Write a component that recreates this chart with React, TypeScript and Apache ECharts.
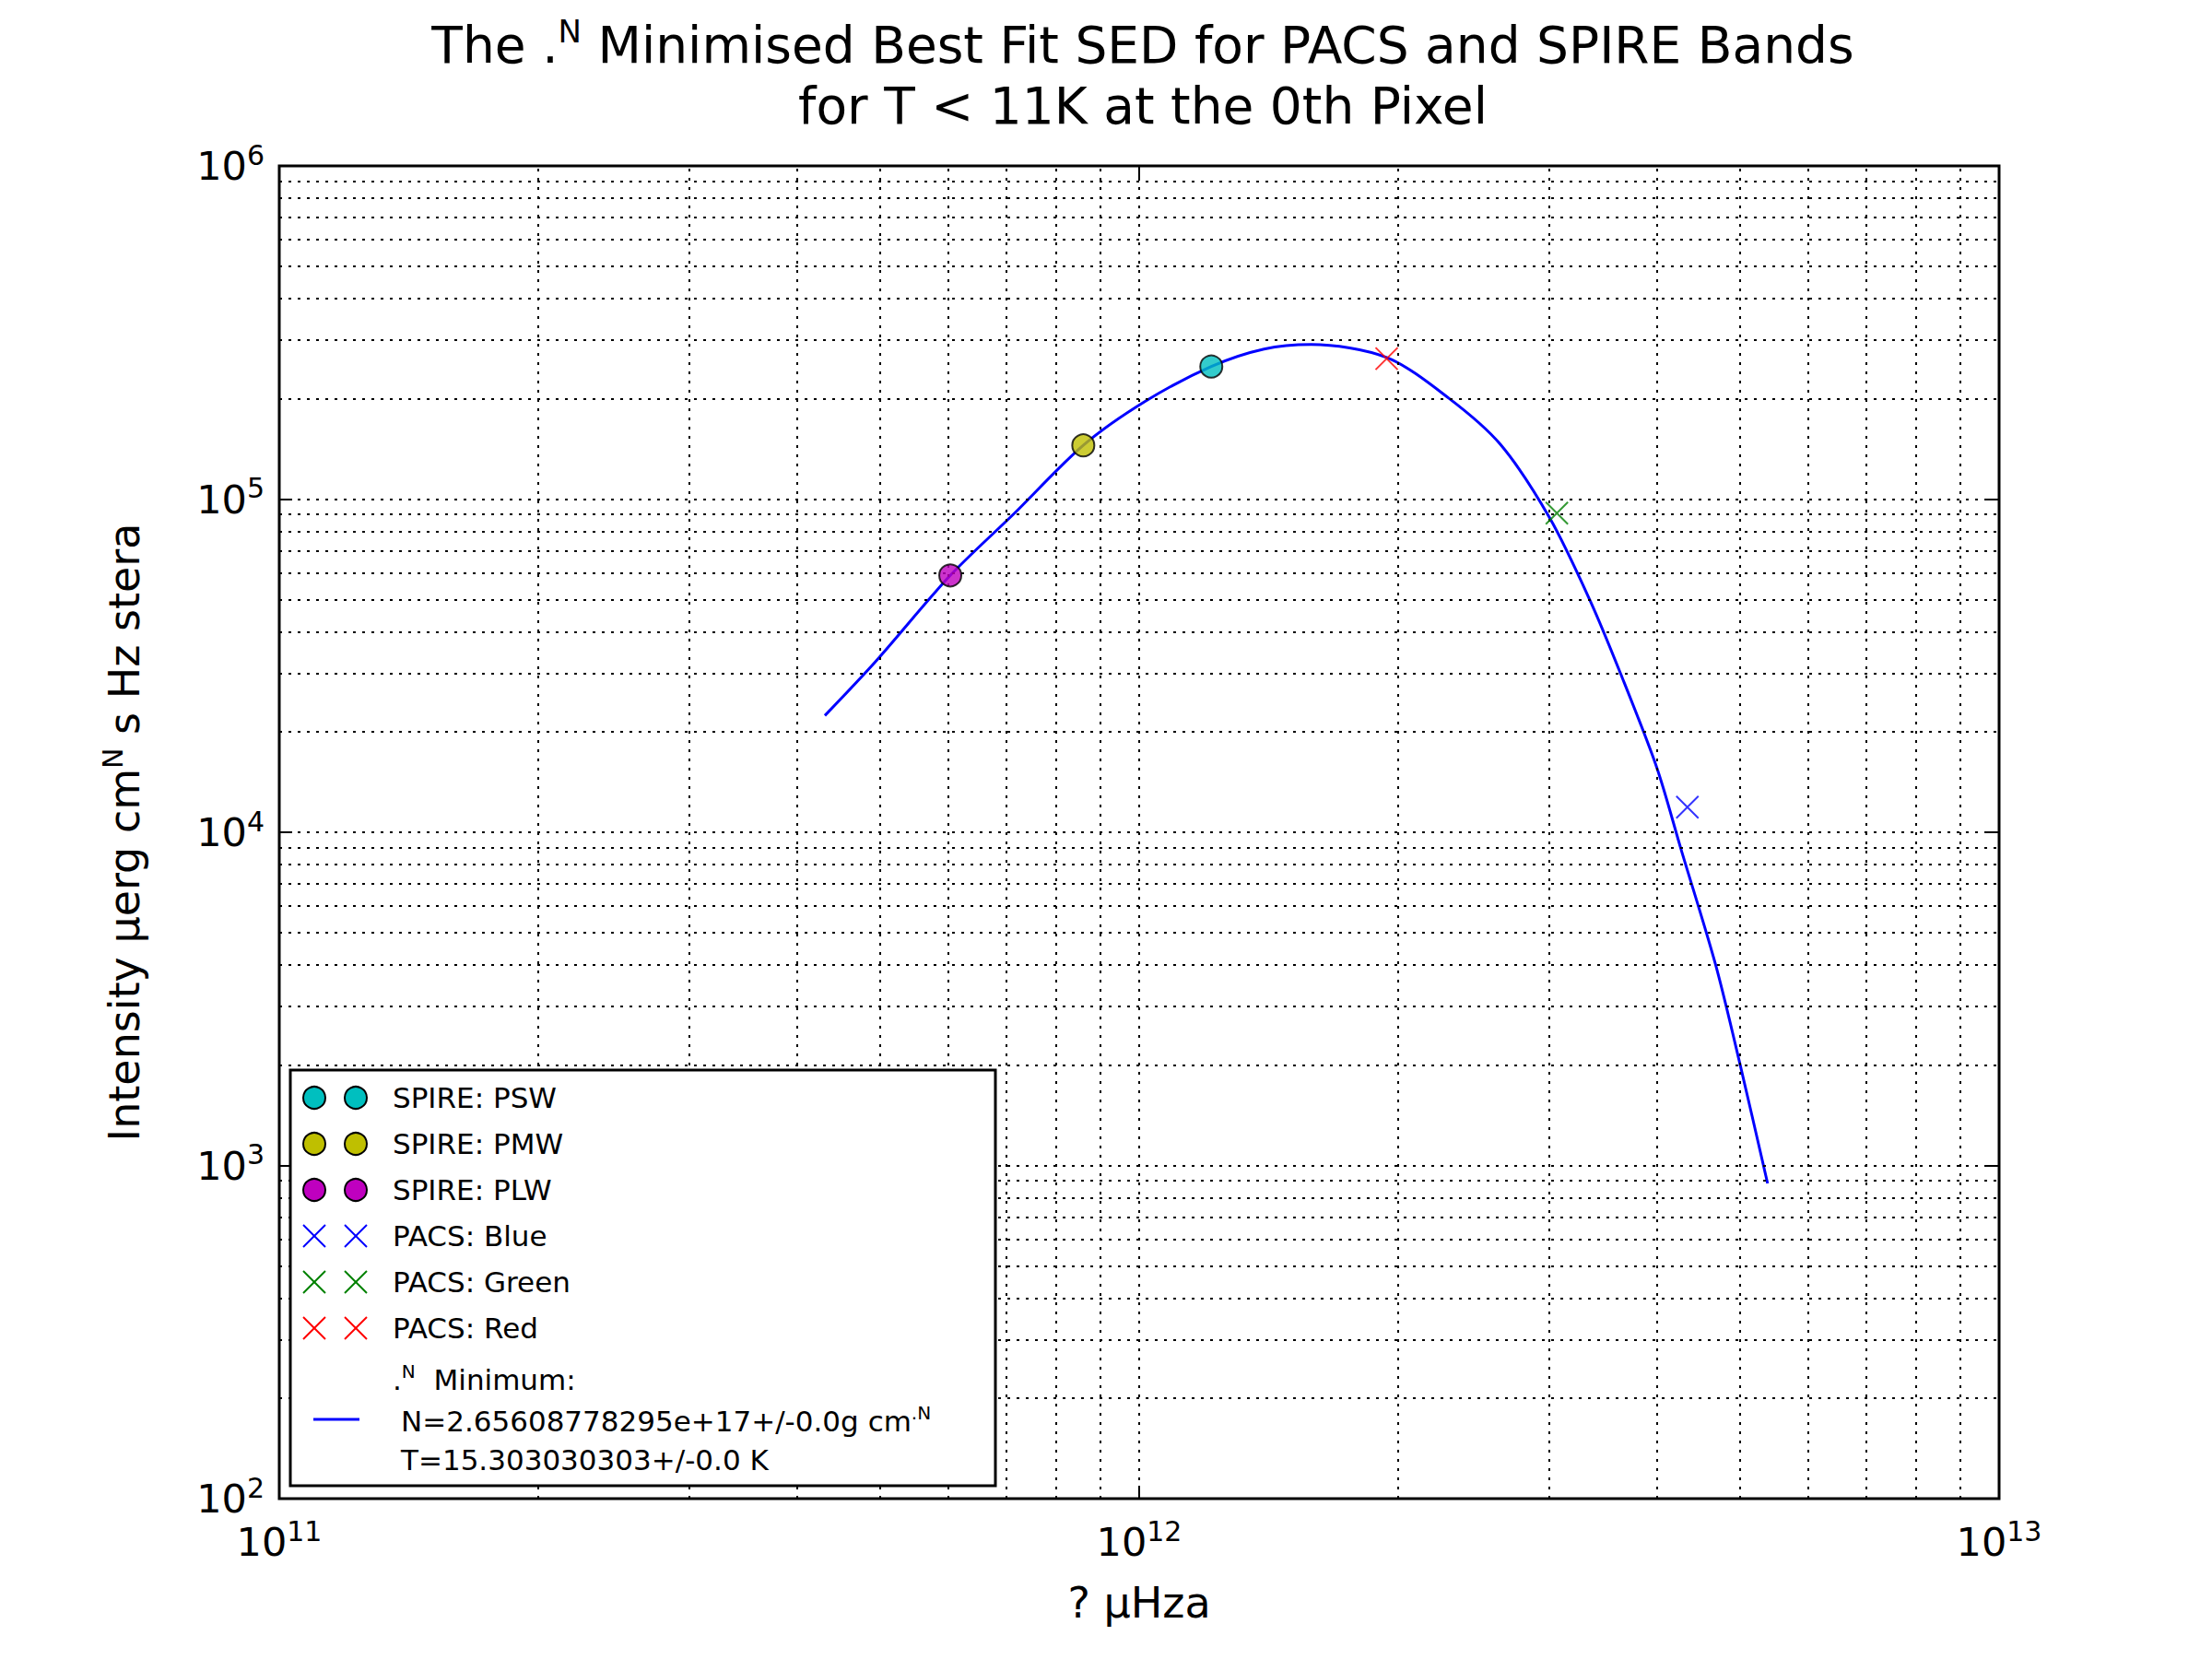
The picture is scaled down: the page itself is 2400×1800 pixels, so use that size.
import { useEffect, useRef } from "react";
import * as echarts from "echarts";

// band photometry (Hz, intensity)
const spirePSW = [[1.213e12, 2.5e5]];
const spirePMW = [[8.61e11, 1.45e5]];
const spirePLW = [[6.03e11, 5.9e4]];
const pacsBlue = [[4.34e12, 1.19e4]];
const pacsGreen = [[3.06e12, 9.07e4]];
const pacsRed = [[1.94e12, 2.64e5]];

// best fit curve
const fitFreq = [4.31e11, 4.94e11, 6.03e11, 7.14e11, 8.61e11, 1.018e12, 1.213e12, 1.397e12, 1.585e12, 1.94e12, 2.29e12, 2.63e12, 3.0e12, 3.34e12, 3.63e12, 4.0e12, 4.27e12, 4.68e12, 5.0e12, 5.38e12];
const fitIntensity = [2.24e4, 3.26e4, 5.9e4, 9.0e4, 1.45e5, 1.97e5, 2.5e5, 2.82e5, 2.91e5, 2.66e5, 2.01e5, 1.46e5, 8.8e4, 5.0e4, 2.99e4, 1.56e4, 8.84e3, 4.01e3, 2.0e3, 883];

const xDecades = [11, 12, 13];
const yDecades = [2, 3, 4, 5, 6];

const FONT = "DejaVu Sans";
const CROSS = "path://M0,0L10,10M10,0L0,10";

const gridValues = (decades: number[]) => {
  const out: number[] = [];
  decades.slice(0, -1).forEach((d) => {
    for (let m = 1; m < 10; m++) out.push(m * Math.pow(10, d));
  });
  return out;
};

const powLabel = (v: number) => `{b|10}{s|${Math.round(Math.log10(v))}}`;
const powRich = { b: { fontSize: 43, fontFamily: FONT, color: "#000" }, s: { fontSize: 30, fontFamily: FONT, color: "#000", padding: [0, 0, 24, 0] } };

const App = () => {
  const ref = useRef<HTMLDivElement>(null);

  useEffect(() => {
    document.body.style.margin = "0";
    if (!ref.current) return;
    const chart = echarts.init(ref.current, undefined, { renderer: "svg" });

    const dotted = { color: "#000", type: [3, 7] as any, width: 2 };
    const xLines = gridValues(xDecades).map((v) => ({ xAxis: v }));
    const yLines = gridValues(yDecades).map((v) => ({ yAxis: v }));

    const scatter = (data: number[][], color: string, cross: boolean) => ({
      type: "scatter",
      data,
      symbol: cross ? CROSS : "circle",
      symbolSize: 24,
      itemStyle: cross
        ? { color: "transparent", borderColor: color, borderWidth: 2 }
        : { color, borderColor: "#000", borderWidth: 2 },
      z: 5,
    });

    const lx = 315, ly = 1161, rowH = 50;
    const legendRows: [string, string, boolean][] = [
      ["SPIRE: PSW", "#00bfbf", false],
      ["SPIRE: PMW", "#bfbf00", false],
      ["SPIRE: PLW", "#bf00bf", false],
      ["PACS: Blue", "#0000ff", true],
      ["PACS: Green", "#008000", true],
      ["PACS: Red", "#ff0000", true],
    ];
    const legendEls: any[] = [
      { type: "rect", shape: { x: lx, y: ly, width: 765, height: 451 }, style: { fill: "#fff", stroke: "#000", lineWidth: 3 }, z: 100 },
    ];
    legendRows.forEach(([label, color, cross], i) => {
      const cy = ly + 30 + i * rowH;
      [lx + 26, lx + 71].forEach((cx) => {
        if (cross) {
          legendEls.push({ type: "line", shape: { x1: cx - 12, y1: cy - 12, x2: cx + 12, y2: cy + 12 }, style: { stroke: color, lineWidth: 2 }, z: 101 });
          legendEls.push({ type: "line", shape: { x1: cx + 12, y1: cy - 12, x2: cx - 12, y2: cy + 12 }, style: { stroke: color, lineWidth: 2 }, z: 101 });
        } else {
          legendEls.push({ type: "circle", shape: { cx, cy, r: 12 }, style: { fill: color, stroke: "#000", lineWidth: 2 }, z: 101 });
        }
      });
      legendEls.push({ type: "text", x: lx + 111, y: cy, style: { text: label, font: `31px '${FONT}'`, fill: "#000", verticalAlign: "middle" }, z: 101 });
    });
    const supRich = { n: { fontSize: 31, fontFamily: FONT }, s: { fontSize: 20, fontFamily: FONT, padding: [0, 0, 18, 0] } };
    legendEls.push({ type: "text", x: lx + 111, y: ly + 336, style: { text: "{n|.}{s|N}{n|  Minimum:}", rich: supRich, fill: "#000", verticalAlign: "middle" }, z: 101 });
    legendEls.push({ type: "line", shape: { x1: lx + 25, y1: ly + 379, x2: lx + 75, y2: ly + 379 }, style: { stroke: "#0000ff", lineWidth: 3 }, z: 101 });
    legendEls.push({ type: "text", x: lx + 120, y: ly + 381, style: { text: "{n|N=2.65608778295e+17+/-0.0g cm}{s|.N}", rich: supRich, fill: "#000", verticalAlign: "middle" }, z: 101 });
    legendEls.push({ type: "text", x: lx + 120, y: ly + 423, style: { text: "T=15.303030303+/-0.0 K", font: `31px '${FONT}'`, fill: "#000", verticalAlign: "middle" }, z: 101 });

    const titleRich = { t: { fontSize: 55, fontFamily: FONT, fontWeight: "normal", color: "#000" }, s: { fontSize: 34, fontFamily: FONT, fontWeight: "normal", color: "#000", padding: [0, 0, 30, 0] } };

    chart.setOption({
      animation: false,
      backgroundColor: "#fff",
      title: [
        { text: "{t|The .}{s|N}{t| Minimised Best Fit SED for PACS and SPIRE Bands}", left: 1235, textAlign: "center", top: 12, textStyle: { fontWeight: "normal", rich: titleRich } },
        { text: "{t|for T < 11K at the 0th Pixel}", left: 1235, textAlign: "center", top: 82, textStyle: { fontWeight: "normal", rich: titleRich } },
      ],
      grid: { left: 303, right: 231, top: 180, bottom: 174, show: true, borderColor: "#000", borderWidth: 3, backgroundColor: "transparent" },
      xAxis: [
        {
          type: "log", logBase: 10, min: 1e11, max: 1e13, interval: 1,
          name: "? µHza", nameLocation: "middle", nameGap: 90,
          nameTextStyle: { fontSize: 46, fontFamily: FONT, color: "#000" },
          axisLine: { show: false }, splitLine: { show: false },
          axisTick: { inside: true, length: 14, lineStyle: { color: "#000", width: 2 } },
          axisLabel: { formatter: powLabel, rich: powRich, margin: 20 },
        },
        { type: "log", logBase: 10, min: 1e11, max: 1e13, interval: 1, position: "top", axisLine: { show: false }, splitLine: { show: false }, axisLabel: { show: false }, axisTick: { inside: true, length: 14, lineStyle: { color: "#000", width: 2 } } },
      ],
      yAxis: [
        {
          type: "log", logBase: 10, min: 100, max: 1e6, interval: 1,
          name: "{n|Intensity µerg cm}{s|N}{n| s Hz stera}", nameLocation: "middle", nameGap: 140, nameRotate: 90,
          nameTextStyle: { rich: { n: { fontSize: 46, fontFamily: FONT, color: "#000" }, s: { fontSize: 30, fontFamily: FONT, color: "#000", padding: [0, 0, 26, 0] } } },
          axisLine: { show: false }, splitLine: { show: false },
          axisTick: { inside: true, length: 14, lineStyle: { color: "#000", width: 2 } },
          axisLabel: { formatter: powLabel, rich: powRich, margin: 16 },
        },
        { type: "log", logBase: 10, min: 100, max: 1e6, interval: 1, position: "right", axisLine: { show: false }, splitLine: { show: false }, axisLabel: { show: false }, axisTick: { inside: true, length: 14, lineStyle: { color: "#000", width: 2 } } },
      ],
      series: [
        {
          type: "line", data: [], silent: true,
          markLine: { silent: true, symbol: "none", label: { show: false }, lineStyle: dotted, data: [...xLines, ...yLines] },
        },
        {
          type: "line",
          data: fitFreq.map((f, i) => [f, fitIntensity[i]]),
          smooth: 0.3, showSymbol: false,
          lineStyle: { color: "#0000ff", width: 3 },
          z: 4,
        },
        scatter(spirePSW, "#00bfbf", false),
        scatter(spirePMW, "#bfbf00", false),
        scatter(spirePLW, "#bf00bf", false),
        scatter(pacsBlue, "#0000ff", true),
        scatter(pacsGreen, "#008000", true),
        scatter(pacsRed, "#ff0000", true),
      ],
      graphic: legendEls,
    });

    return () => chart.dispose();
  }, []);

  return <div ref={ref} style={{ width: 2400, height: 1800 }} />;
};

export default App;
